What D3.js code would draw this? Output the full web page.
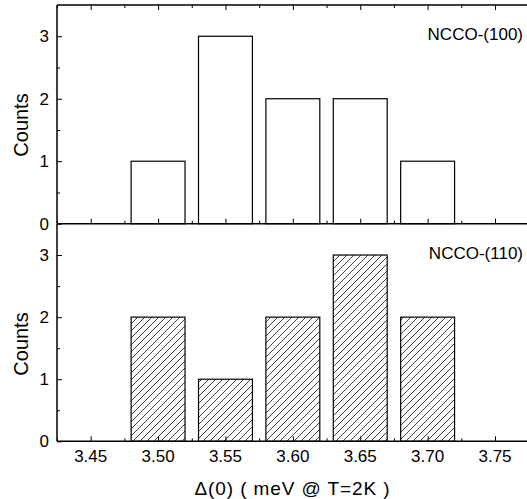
<!DOCTYPE html>
<html><head><meta charset="utf-8">
<script src="https://cdn.jsdelivr.net/npm/d3@7"></script>
<style>body{margin:0;background:#fff}svg{display:block}text{font-family:Arial,"Liberation Sans",Helvetica,sans-serif;fill:#000}</style>
</head><body>
<script>
const binCenters = [3.50, 3.55, 3.60, 3.65, 3.70];
const counts100 = [1, 3, 2, 2, 1];
const counts110 = [2, 1, 2, 3, 2];
const xTickValues = [3.45, 3.50, 3.55, 3.60, 3.65, 3.70, 3.75];
const yTickValues = [0, 1, 2, 3];
const label100 = "NCCO-(100)";
const label110 = "NCCO-(110)";
const xTitle = "\u0394(0) ( meV @ T=2K )";
const yTitle = "Counts";
const binWidth = 0.04;

const W = 527, H = 499;
const svg = d3.select("body").append("svg").attr("width", W).attr("height", H);
const defs = svg.append("defs");
const pat = defs.append("pattern").attr("id","hatch").attr("patternUnits","userSpaceOnUse")
  .attr("width",7).attr("height",7);
pat.append("path").attr("d","M-1,1 l2,-2 M0,7 l7,-7 M6,8 l2,-2").attr("stroke","#000").attr("stroke-width",0.75);

const left = 57, right = 528.7;
const x = d3.scaleLinear().domain([3.425, 3.775]).range([left, right]);
const panels = [
  {data: counts100, top: 5, bottom: 223.7, label: label100, fill: "#fff", ly: 40, ty: 125},
  {data: counts110, top: 224, bottom: 441.3, label: label110, fill: "url(#hatch)", ly: 259, ty: 344}
];
const minorX = d3.range(0, 15).map(i => 3.425 + i*0.025);
const minorOnly = minorX.filter(v => !xTickValues.some(t => Math.abs(t-v)<1e-6));

panels.forEach((p, pi) => {
  const y = d3.scaleLinear().domain([0, 3.5]).range([p.bottom, p.top]);
  const g = svg.append("g");
  g.selectAll("rect").data(p.data).join("rect")
    .attr("x", (d,i) => x(binCenters[i]-binWidth/2))
    .attr("width", (d,i) => x(binCenters[i]+binWidth/2) - x(binCenters[i]-binWidth/2))
    .attr("y", d => y(d)).attr("height", d => y(0)-y(d))
    .attr("fill", p.fill).attr("stroke", "#000").attr("stroke-width", 1.2);
  const yAxis = d3.axisRight(y).tickValues(yTickValues).tickSize(5).tickFormat("");
  const ya = g.append("g").attr("transform", `translate(${left},0)`).call(yAxis);
  const yMinor = d3.axisRight(y).tickValues([0.5,1.5,2.5]).tickSize(3).tickFormat("");
  const ym = g.append("g").attr("transform", `translate(${left},0)`).call(yMinor);
  [ya, ym].forEach(a => { a.select(".domain").remove(); a.selectAll("line").attr("stroke","#000").attr("stroke-width",1); });
  g.selectAll(".ylab").data(yTickValues).join("text").attr("class","ylab")
    .attr("x", left-8).attr("y", d => y(d)).attr("dy","0.36em").attr("text-anchor","end")
    .style("font-size","17px").text(d => d);
  const xMaj = d3.axisTop(x).tickValues(xTickValues).tickSize(5).tickFormat("");
  const xMin = d3.axisTop(x).tickValues(minorOnly).tickSize(3).tickFormat("");
  [xMaj, xMin].forEach(ax => {
    const a = g.append("g").attr("transform", `translate(0,${p.bottom})`).call(ax);
    a.select(".domain").remove(); a.selectAll("line").attr("stroke","#000").attr("stroke-width",1);
  });
  if (pi === 0) {
    const tMaj = d3.axisBottom(x).tickValues(xTickValues).tickSize(5).tickFormat("");
    const tMin = d3.axisBottom(x).tickValues(minorOnly).tickSize(3).tickFormat("");
    [tMaj, tMin].forEach(ax => {
      const a = g.append("g").attr("transform", `translate(0,${p.top})`).call(ax);
      a.select(".domain").remove(); a.selectAll("line").attr("stroke","#000").attr("stroke-width",1);
    });
  }
  g.append("line").attr("x1", left).attr("x2", left).attr("y1", p.top).attr("y2", p.bottom).attr("stroke","#000").attr("stroke-width",1.5);
  g.append("line").attr("x1", left).attr("x2", W).attr("y1", p.bottom).attr("y2", p.bottom).attr("stroke","#000").attr("stroke-width",1.5);
  if (pi === 0) g.append("line").attr("x1", left).attr("x2", W).attr("y1", p.top).attr("y2", p.top).attr("stroke","#000").attr("stroke-width",1.5);
  g.append("text").attr("x", 523).attr("y", p.ly).attr("text-anchor","end").style("font-size","17px").text(p.label);
  g.append("text").attr("transform", `translate(28,${p.ty}) rotate(-90)`).attr("text-anchor","middle")
    .style("font-size","20px").text(yTitle);
});

svg.selectAll(".xlab").data(xTickValues).join("text").attr("class","xlab")
  .attr("x", d => x(d)).attr("y", 462).attr("text-anchor","middle").style("font-size","17px")
  .text(d => d.toFixed(2));
svg.append("text").attr("x", 292).attr("y", 495).attr("text-anchor","middle").style("font-size","19px")
  .attr("textLength", 195).attr("lengthAdjust", "spacing").text(xTitle);
</script>
</body></html>
